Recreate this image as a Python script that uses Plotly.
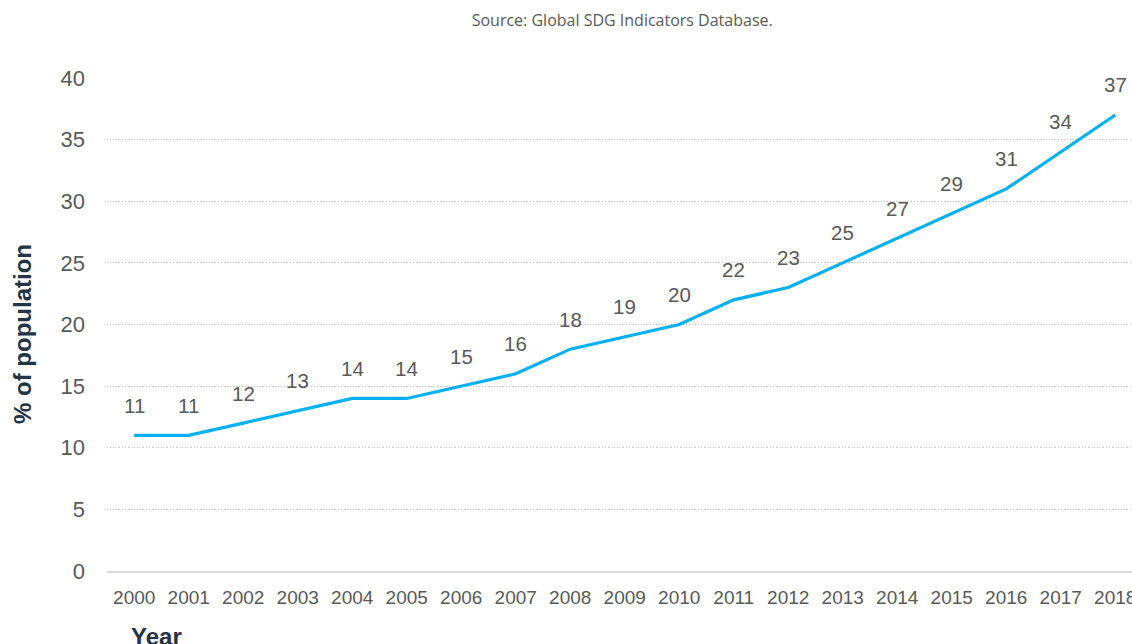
import plotly.graph_objects as go

years = ["2000", "2001", "2002", "2003", "2004", "2005", "2006", "2007", "2008", "2009",
         "2010", "2011", "2012", "2013", "2014", "2015", "2016", "2017", "2018"]
values = [11, 11, 12, 13, 14, 14, 15, 16, 18, 19, 20, 22, 23, 25, 27, 29, 31, 34, 37]
y_ticks = [0, 5, 10, 15, 20, 25, 30, 35, 40]

xs = list(range(len(years)))

# body margin removed below, so figure coordinates = picture coordinates
OFF = 0
W, H = 1132, 644
L, R, T = 107 - OFF, 0, 78 - OFF
B = H - (571 - OFF)
ph = H - T - B
pw = W - L - R
step = (1115 - 134) / 18.0
x_hi = -0.5 + pw / step

fig = go.Figure()
fig.add_trace(go.Scatter(
    x=xs, y=values, mode="lines",
    line=dict(color="#00B0F0", width=3.2),
    hoverinfo="skip", showlegend=False, cliponaxis=False,
))

for x, v in zip(xs, values):
    fig.add_annotation(
        x=x, y=v, text=str(v), showarrow=False, yshift=30,
        font=dict(family="Liberation Sans, Arial", size=20.5, color="#595959"),
    )

fig.update_layout(
    width=W, height=H,
    margin=dict(l=L, r=R, t=T, b=B, autoexpand=False),
    paper_bgcolor="white", plot_bgcolor="white",
    title=dict(
        text="Source: Global SDG Indicators Database.",
        x=(569 - OFF) / W, xanchor="center", xref="paper", y=1 - (20 - OFF) / H, yanchor="middle",
        font=dict(family="Open Sans", size=16, color="#595959"),
    ),
    xaxis=dict(
        range=[-0.5, x_hi], automargin=False,
        tickmode="array", tickvals=xs, ticktext=years,
        showgrid=False, zeroline=False,
        showline=True, linecolor="#D9D9D9", linewidth=2,
        ticks="", ticklabeloverflow="allow", ticklabelstandoff=8,
        tickfont=dict(family="Liberation Sans, Arial", size=19, color="#595959"),
    ),
    yaxis=dict(
        range=[0, 40], automargin=False,
        tickmode="array", tickvals=y_ticks,
        showgrid=True, gridcolor="#C8C8C8", griddash="1px,2px", gridwidth=1,
        zeroline=False, showline=False, ticks="", ticklabelstandoff=21,
        tickfont=dict(family="Liberation Sans, Arial", size=22, color="#595959"),
    ),
)

fig.add_annotation(
    xref="paper", yref="paper", x=(22 - OFF - L) / pw, y=(H - B - (334 - OFF)) / ph,
    text="<b>% of population</b>", showarrow=False, textangle=-90,
    xanchor="center", yanchor="middle",
    font=dict(family="Liberation Sans, Arial", size=24, color="#253347"),
)

fig.add_annotation(
    xref="paper", yref="paper", x=(156 - OFF - L) / pw, y=-((636 - OFF) - (H - B)) / ph,
    text="<b>Year</b>", showarrow=False, xanchor="center", yanchor="middle",
    font=dict(family="Liberation Sans, Arial", size=24, color="#253347"),
)

fig.write_html(
    "out.html",
    config={"displayModeBar": False},
    post_script="document.body.style.margin='0';document.body.style.overflow='hidden';",
)
